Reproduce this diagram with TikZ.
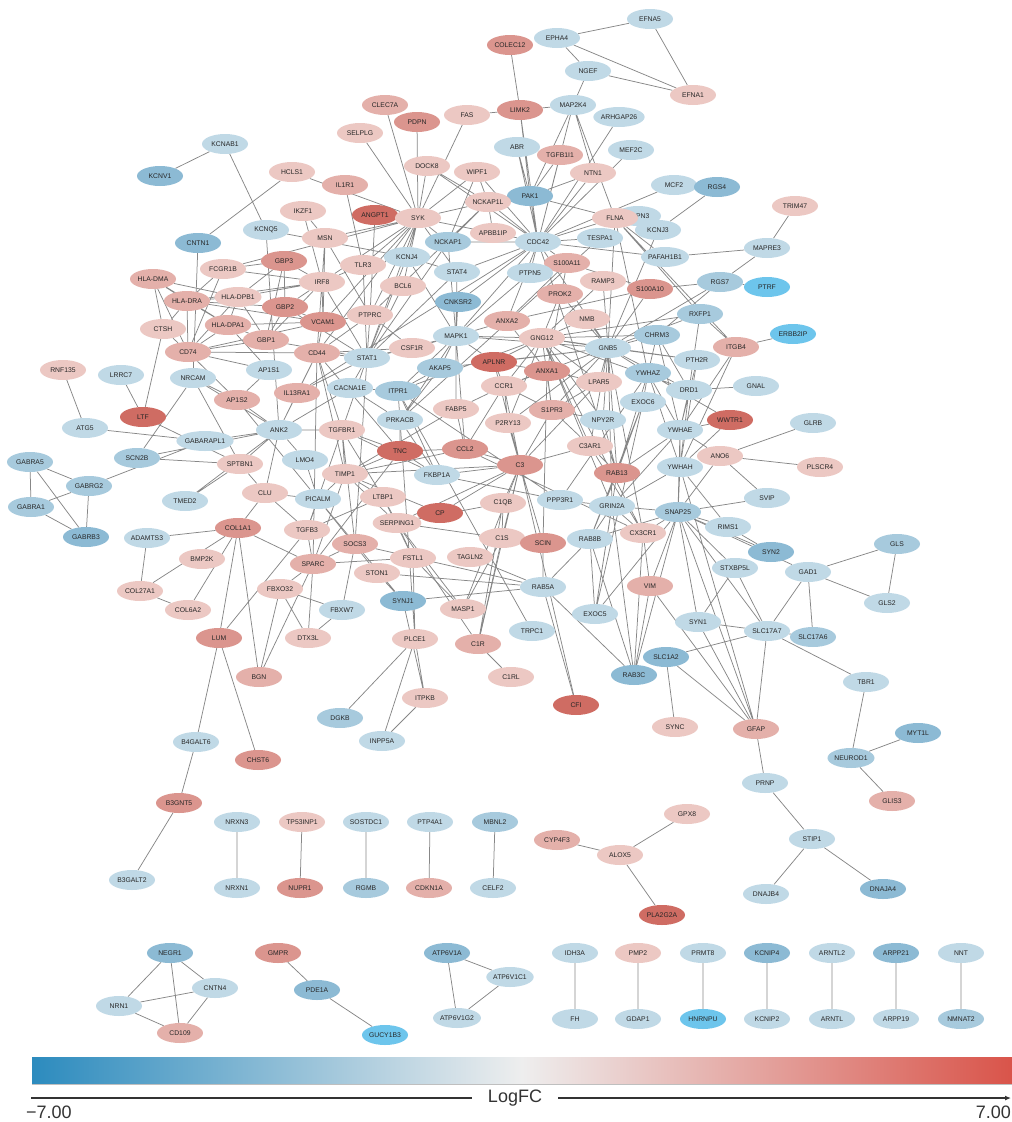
\documentclass[tikz,border=0pt]{standalone}
\usepackage{fontspec}
\setmainfont{Liberation Sans}
\usepackage{tikz}
\usetikzlibrary{shapes.geometric,backgrounds,arrows.meta}

\definecolor{ra}{HTML}{ECC8C3}
\definecolor{rb}{HTML}{E4B0AA}
\definecolor{rc}{HTML}{DB958E}
\definecolor{rd}{HTML}{CF6C63}
\definecolor{ba}{HTML}{C0D9E6}
\definecolor{bb}{HTML}{A7CADD}
\definecolor{bc}{HTML}{8CBAD4}
\definecolor{bd}{HTML}{6DC5EC}
\definecolor{edgegray}{HTML}{878787}

\begin{document}
\begin{tikzpicture}[x=1pt, y=-1pt,
  gene/.style={ellipse, minimum width=46pt, minimum height=20pt, inner sep=0pt,
    font=\fontsize{6.8}{7}\selectfont, text=black!85},
  r1/.style={gene, fill=ra}, r2/.style={gene, fill=rb},
  r3/.style={gene, fill=rc}, r4/.style={gene, fill=rd},
  b1/.style={gene, fill=ba}, b2/.style={gene, fill=bb},
  b3/.style={gene, fill=bc}, b4/.style={gene, fill=bd},
  link/.style={draw=edgegray, line width=0.75pt}]

 \useasboundingbox (0,0) rectangle (1012,1122);

 % main network, upper part
 \node[b3] (KCNV1) at (160,176) {KCNV1};
 \node[b1] (KCNAB1) at (225,144) {KCNAB1};
 \node[r1] (HCLS1) at (292,172) {HCLS1};
 \node[r2] (IL1R1) at (345,185) {IL1R1};
 \node[r1] (SELPLG) at (360,133) {SELPLG};
 \node[r2] (CLEC7A) at (385,105) {CLEC7A};
 \node[r3] (PDPN) at (417,122) {PDPN};
 \node[r1] (FAS) at (467,115) {FAS};
 \node[r3] (LIMK2) at (520,110) {LIMK2};
 \node[r3] (COLEC12) at (510,45) {COLEC12};
 \node[b1] (EPHA4) at (557,38) {EPHA4};
 \node[b1] (EFNA5) at (650,19) {EFNA5};
 \node[b1] (NGEF) at (588,71) {NGEF};
 \node[r1] (EFNA1) at (693,95) {EFNA1};
 \node[b1] (MAP2K4) at (573,105) {MAP2K4};
 \node[b1] (ARHGAP26) at (619,117) {ARHGAP26};
 \node[b1] (ABR) at (517,147) {ABR};
 \node[r2] (TGFB1I1) at (560,155) {TGFB1I1};
 \node[b1] (MEF2C) at (631,150) {MEF2C};
 \node[r1] (DOCK8) at (427,166) {DOCK8};
 \node[r1] (WIPF1) at (477,172) {WIPF1};
 \node[r1] (NTN1) at (593,173) {NTN1};
 \node[b3] (PAK1) at (530,196) {PAK1};
 \node[b1] (MCF2) at (674,185) {MCF2};
 \node[b3] (RGS4) at (717,187) {RGS4};
 \node[r1] (TRIM47) at (795,206) {TRIM47};
 \node[r1] (IKZF1) at (303,211) {IKZF1};
 \node[r4] (ANGPT1) at (375,215) {ANGPT1};
 \node[r1] (SYK) at (418,218) {SYK};
 \node[r1] (NCKAP1L) at (488,202) {NCKAP1L};
 \node[b1] (CAPN3) at (638,216) {CAPN3};
 \node[r1] (FLNA) at (615,218) {FLNA};
 \node[b1] (KCNJ3) at (658,230) {KCNJ3};
 \node[b3] (CNTN1) at (198,243) {CNTN1};
 \node[b1] (KCNQ5) at (266,230) {KCNQ5};
 \node[r1] (MSN) at (325,238) {MSN};
 \node[r1] (APBB1IP) at (493,233) {APBB1IP};
 \node[b2] (NCKAP1) at (448,242) {NCKAP1};
 \node[b1] (CDC42) at (538,242) {CDC42};
 \node[b1] (TESPA1) at (600,238) {TESPA1};
 \node[b1] (PAFAH1B1) at (665,257) {PAFAH1B1};
 \node[b1] (MAPRE3) at (767,248) {MAPRE3};
 \node[r1] (FCGR1B) at (223,269) {FCGR1B};
 \node[r3] (GBP3) at (284,261) {GBP3};
 \node[b1] (KCNJ4) at (407,257) {KCNJ4};
 \node[r1] (TLR3) at (363,265) {TLR3};
 \node[r2] (S100A11) at (567,263) {S100A11};
 \node[b1] (STAT4) at (457,272) {STAT4};
 \node[b1] (PTPN5) at (530,273) {PTPN5};
 \node[r1] (IRF8) at (322,282) {IRF8};
 \node[r2] (HLA-DMA) at (153,279) {HLA-DMA};
 \node[r1] (RAMP3) at (603,281) {RAMP3};
 \node[b2] (RGS7) at (720,282) {RGS7};
 \node[b4] (PTRF) at (767,287) {PTRF};
 \node[r1] (BCL6) at (403,286) {BCL6};
 \node[r3] (S100A10) at (650,289) {S100A10};
 \node[r2] (PROK2) at (560,294) {PROK2};
 \node[r1] (HLA-DPB1) at (238,297) {HLA-DPB1};
 \node[r2] (HLA-DRA) at (187,301) {HLA-DRA};
 \node[b3] (CNKSR2) at (458,302) {CNKSR2};
 \node[r3] (GBP2) at (285,307) {GBP2};
 \node[b2] (RXFP1) at (700,314) {RXFP1};
 \node[r1] (PTPRC) at (370,315) {PTPRC};
 \node[r2] (ANXA2) at (507,321) {ANXA2};
 \node[r1] (NMB) at (587,319) {NMB};
 \node[r3] (VCAM1) at (323,322) {VCAM1};
 \node[r2] (HLA-DPA1) at (228,325) {HLA-DPA1};
 \node[r1] (CTSH) at (163,329) {CTSH};
 \node[b4] (ERBB2IP) at (793,334) {ERBB2IP};
 \node[b1] (MAPK1) at (456,336) {MAPK1};
 \node[r1] (GNG12) at (542,338) {GNG12};
 \node[b2] (CHRM3) at (657,335) {CHRM3};
 \node[r2] (GBP1) at (266,340) {GBP1};
 \node[r2] (ITGB4) at (736,347) {ITGB4};
 \node[r1] (CSF1R) at (412,348) {CSF1R};
 \node[b1] (GNB5) at (608,348) {GNB5};
 \node[r2] (CD74) at (188,352) {CD74};
 \node[r2] (CD44) at (317,353) {CD44};
 \node[b1] (STAT1) at (367,358) {STAT1};
 \node[b1] (PTH2R) at (697,360) {PTH2R};
 \node[r4] (APLNR) at (494,362) {APLNR};
 \node[b2] (AKAP5) at (440,368) {AKAP5};
 \node[r1] (RNF135) at (63,370) {RNF135};
 \node[b1] (AP1S1) at (269,370) {AP1S1};
 \node[r3] (ANXA1) at (547,371) {ANXA1};
 \node[b2] (YWHAZ) at (648,373) {YWHAZ};
 \node[b1] (LRRC7) at (121,375) {LRRC7};
 \node[b1] (NRCAM) at (193,378) {NRCAM};
 \node[r1] (LPAR5) at (599,382) {LPAR5};
 \node[r1] (CCR1) at (504,386) {CCR1};
 \node[b1] (GNAL) at (756,386) {GNAL};
 \node[b1] (CACNA1E) at (350,388) {CACNA1E};
 \node[b1] (DRD1) at (689,390) {DRD1};
 \node[b2] (ITPR1) at (398,391) {ITPR1};
 \node[r2] (IL13RA1) at (297,393) {IL13RA1};
 \node[r2] (AP1S2) at (237,400) {AP1S2};
 \node[b1] (EXOC6) at (643,402) {EXOC6};
 \node[r1] (FABP5) at (456,409) {FABP5};
 \node[r2] (S1PR3) at (552,410) {S1PR3};
 \node[r4] (LTF) at (143,417) {LTF};
 \node[b1] (PRKACB) at (400,420) {PRKACB};
 \node[b1] (NPY2R) at (603,420) {NPY2R};
 \node[r4] (WWTR1) at (730,420) {WWTR1};
 \node[r1] (P2RY13) at (508,423) {P2RY13};
 \node[b1] (GLRB) at (813,423) {GLRB};
 \node[b1] (ATG5) at (85,428) {ATG5};
 \node[b1] (ANK2) at (279,430) {ANK2};
 \node[r1] (TGFBR1) at (342,430) {TGFBR1};
 \node[b1] (YWHAE) at (680,430) {YWHAE};
 \node[b1] (GABARAPL1) at (205,441) {GABARAPL1};
 \node[r1] (C3AR1) at (590,446) {C3AR1};
 \node[r3] (CCL2) at (465,449) {CCL2};
 \node[r4] (TNC) at (400,451) {TNC};
 \node[r1] (ANO6) at (720,456) {ANO6};
 \node[b2] (SCN2B) at (137,458) {SCN2B};
 \node[b1] (LMO4) at (305,460) {LMO4};
 \node[b2] (GABRA5) at (30,462) {GABRA5};
 \node[r1] (SPTBN1) at (240,464) {SPTBN1};
 \node[r3] (C3) at (520,465) {C3};
 \node[r1] (PLSCR4) at (820,467) {PLSCR4};
 \node[b1] (YWHAH) at (680,467) {YWHAH};
 \node[r3] (RAB13) at (617,473) {RAB13};
 \node[r1] (TIMP1) at (345,474) {TIMP1};
 \node[b1] (FKBP1A) at (437,475) {FKBP1A};
 \node[b2] (GABRG2) at (89,486) {GABRG2};
 \node[r1] (CLU) at (265,493) {CLU};
 \node[r1] (LTBP1) at (383,497) {LTBP1};
 \node[b1] (SVIP) at (767,498) {SVIP};
 \node[b1] (PICALM) at (318,499) {PICALM};
 \node[b1] (PPP3R1) at (560,500) {PPP3R1};
 \node[b1] (TMED2) at (185,501) {TMED2};
 \node[r1] (C1QB) at (503,503) {C1QB};
 \node[b1] (GRIN2A) at (612,506) {GRIN2A};
 \node[b2] (GABRA1) at (31,507) {GABRA1};
 \node[b2] (SNAP25) at (678,512) {SNAP25};
 \node[r4] (CP) at (440,513) {CP};
 \node[r1] (SERPING1) at (397,523) {SERPING1};
 \node[b1] (RIMS1) at (728,527) {RIMS1};
 \node[r3] (COL1A1) at (238,528) {COL1A1};
 \node[r1] (TGFB3) at (307,530) {TGFB3};
 \node[r1] (CX3CR1) at (643,533) {CX3CR1};
 \node[b3] (GABRB3) at (86,537) {GABRB3};
 \node[b1] (ADAMTS3) at (147,538) {ADAMTS3};
 \node[r1] (C1S) at (502,538) {C1S};
 \node[b1] (RAB8B) at (590,539) {RAB8B};
 \node[r3] (SCIN) at (543,543) {SCIN};
 \node[r2] (SOCS3) at (355,544) {SOCS3};
 \node[b2] (GLS) at (897,544) {GLS};
 \node[b3] (SYN2) at (771,552) {SYN2};
 \node[r1] (FSTL1) at (413,558) {FSTL1};
 \node[r1] (TAGLN2) at (470,557) {TAGLN2};
 \node[r1] (BMP2K) at (202,559) {BMP2K};
 \node[r2] (SPARC) at (313,564) {SPARC};
 \node[b1] (STXBP5L) at (735,568) {STXBP5L};
 \node[b1] (GAD1) at (808,572) {GAD1};
 \node[r1] (STON1) at (377,573) {STON1};
 \node[r2] (VIM) at (650,586) {VIM};
 \node[b1] (RAB5A) at (543,587) {RAB5A};
 \node[r1] (FBXO32) at (280,589) {FBXO32};
 \node[r1] (COL27A1) at (140,591) {COL27A1};
 \node[b3] (SYNJ1) at (403,601) {SYNJ1};
 \node[b1] (GLS2) at (887,603) {GLS2};
 \node[r1] (MASP1) at (463,609) {MASP1};
 \node[r1] (COL6A2) at (188,610) {COL6A2};
 \node[b1] (FBXW7) at (342,610) {FBXW7};
 \node[b1] (EXOC5) at (595,614) {EXOC5};
 \node[b1] (SYN1) at (698,622) {SYN1};
 \node[b1] (TRPC1) at (532,631) {TRPC1};
 \node[b1] (SLC17A7) at (767,631) {SLC17A7};
 \node[b2] (SLC17A6) at (813,637) {SLC17A6};
 \node[r3] (LUM) at (219,638) {LUM};
 \node[r1] (DTX3L) at (308,638) {DTX3L};
 \node[r1] (PLCE1) at (415,639) {PLCE1};
 \node[r2] (C1R) at (478,644) {C1R};
 \node[b3] (SLC1A2) at (666,657) {SLC1A2};
 \node[b3] (RAB3C) at (634,675) {RAB3C};
 \node[r2] (BGN) at (259,677) {BGN};
 \node[r1] (C1RL) at (511,677) {C1RL};
 \node[b1] (TBR1) at (866,682) {TBR1};
 \node[r1] (ITPKB) at (425,698) {ITPKB};
 \node[r4] (CFI) at (576,705) {CFI};
 \node[b2] (DGKB) at (340,718) {DGKB};
 \node[r1] (SYNC) at (675,727) {SYNC};
 \node[r2] (GFAP) at (756,729) {GFAP};
 \node[b3] (MYT1L) at (918,733) {MYT1L};
 \node[b1] (INPP5A) at (382,741) {INPP5A};
 \node[b1] (B4GALT6) at (196,742) {B4GALT6};
 \node[b2] (NEUROD1) at (851,758) {NEUROD1};
 \node[r3] (CHST6) at (258,760) {CHST6};
 \node[b1] (PRNP) at (765,783) {PRNP};
 \node[r2] (GLIS3) at (892,801) {GLIS3};
 \node[r3] (B3GNT5) at (179,803) {B3GNT5};
 \node[b1] (STIP1) at (812,839) {STIP1};
 \node[b3] (DNAJA4) at (883,889) {DNAJA4};
 \node[b1] (DNAJB4) at (766,894) {DNAJB4};
 \node[b1] (B3GALT2) at (132,880) {B3GALT2};

 % small groups
 \node[r1] (GPX8) at (687,814) {GPX8};
 \node[r2] (CYP4F3) at (557,840) {CYP4F3};
 \node[r1] (ALOX5) at (620,855) {ALOX5};
 \node[r4] (PLA2G2A) at (662,915) {PLA2G2A};
 \node[b1] (NRXN3) at (237,822) {NRXN3};
 \node[b1] (NRXN1) at (237,888) {NRXN1};
 \node[r1] (TP53INP1) at (302,822) {TP53INP1};
 \node[r3] (NUPR1) at (300,888) {NUPR1};
 \node[b1] (SOSTDC1) at (366,822) {SOSTDC1};
 \node[b2] (RGMB) at (366,888) {RGMB};
 \node[b1] (PTP4A1) at (430,822) {PTP4A1};
 \node[r2] (CDKN1A) at (429,888) {CDKN1A};
 \node[b2] (MBNL2) at (495,822) {MBNL2};
 \node[b1] (CELF2) at (493,888) {CELF2};
 \node[b3] (NEGR1) at (170,953) {NEGR1};
 \node[b1] (CNTN4) at (215,988) {CNTN4};
 \node[b1] (NRN1) at (119,1006) {NRN1};
 \node[r2] (CD109) at (180,1033) {CD109};
 \node[r3] (GMPR) at (278,953) {GMPR};
 \node[b3] (PDE1A) at (317,990) {PDE1A};
 \node[b4] (GUCY1B3) at (385,1035) {GUCY1B3};
 \node[b3] (ATP6V1A) at (447,953) {ATP6V1A};
 \node[b1] (ATP6V1C1) at (510,977) {ATP6V1C1};
 \node[b1] (ATP6V1G2) at (457,1018) {ATP6V1G2};
 \node[b1] (IDH3A) at (575,953) {IDH3A};
 \node[b1] (FH) at (575,1019) {FH};
 \node[r1] (PMP2) at (638,953) {PMP2};
 \node[b1] (GDAP1) at (638,1019) {GDAP1};
 \node[b1] (PRMT8) at (703,953) {PRMT8};
 \node[b4] (HNRNPU) at (703,1019) {HNRNPU};
 \node[b3] (KCNIP4) at (767,953) {KCNIP4};
 \node[b1] (KCNIP2) at (767,1019) {KCNIP2};
 \node[b1] (ARNTL2) at (832,953) {ARNTL2};
 \node[b1] (ARNTL) at (832,1019) {ARNTL};
 \node[b3] (ARPP21) at (896,953) {ARPP21};
 \node[b1] (ARPP19) at (896,1019) {ARPP19};
 \node[b1] (NNT) at (961,953) {NNT};
 \node[b2] (NMNAT2) at (961,1019) {NMNAT2};

 \begin{pgfonlayer}{background}
 \draw[link]
   (KCNV1) -- (KCNAB1) (KCNAB1) -- (KCNQ5) (HCLS1) -- (SYK) (HCLS1) -- (CNTN1)
   (CNTN1) -- (NRCAM) (KCNQ5) -- (KCNJ4) (KCNQ5) -- (ANK2) (IKZF1) -- (IRF8)
   (IKZF1) -- (MSN) (SELPLG) -- (SYK) (CLEC7A) -- (SYK) (PDPN) -- (SYK)
   (FAS) -- (SYK) (FAS) -- (LIMK2) (COLEC12) -- (LIMK2) (LIMK2) -- (MAP2K4)
   (LIMK2) -- (CDC42) (LIMK2) -- (PAK1) (EPHA4) -- (EFNA5) (EPHA4) -- (NGEF)
   (EPHA4) -- (EFNA1) (NGEF) -- (EFNA1) (EFNA5) -- (EFNA1) (NGEF) -- (MAP2K4)
   (MAP2K4) -- (CDC42) (MAP2K4) -- (PAK1) (MAP2K4) -- (FLNA) (MAP2K4) -- (NTN1)
   (ARHGAP26) -- (CDC42) (ABR) -- (CDC42) (ABR) -- (PAK1) (TGFB1I1) -- (CDC42)
   (TGFB1I1) -- (PAK1) (MEF2C) -- (CDC42) (NTN1) -- (CDC42) (NTN1) -- (PAK1)
   (MCF2) -- (CDC42) (PAK1) -- (CDC42) (PAK1) -- (FLNA) (WIPF1) -- (CDC42)
   (WIPF1) -- (SYK) (WIPF1) -- (NCKAP1L) (WIPF1) -- (NCKAP1) (DOCK8) -- (CDC42)
   (DOCK8) -- (SYK) (DOCK8) -- (NCKAP1L) (IL1R1) -- (TLR3) (ANGPT1) -- (PTPRC)
   (SYK) -- (NCKAP1L) (SYK) -- (APBB1IP) (SYK) -- (CDC42) (SYK) -- (MSN)
   (SYK) -- (STAT4) (SYK) -- (PTPRC) (SYK) -- (VCAM1) (SYK) -- (TLR3)
   (SYK) -- (FCGR1B) (SYK) -- (CD44) (SYK) -- (STAT1) (SYK) -- (KCNJ4)
   (SYK) -- (BCL6) (SYK) -- (IRF8) (SYK) -- (NCKAP1) (SYK) -- (ANGPT1)
   (NCKAP1L) -- (CDC42) (NCKAP1L) -- (NCKAP1) (NCKAP1L) -- (APBB1IP) (NCKAP1L) -- (PTPRC)
   (NCKAP1) -- (CDC42) (APBB1IP) -- (CDC42) (FLNA) -- (CDC42) (FLNA) -- (PAFAH1B1)
   (FLNA) -- (RXFP1) (FLNA) -- (ITGB4) (FLNA) -- (YWHAZ) (TESPA1) -- (CDC42)
   (PAFAH1B1) -- (CDC42) (PAFAH1B1) -- (MAPRE3) (TRIM47) -- (MAPRE3) (MAPRE3) -- (RGS7)
   (RGS4) -- (KCNJ3) (KCNJ3) -- (GNB5) (RGS7) -- (PTRF) (RGS7) -- (S100A10)
   (RGS7) -- (GNB5) (RXFP1) -- (GNB5) (RXFP1) -- (GNG12) (RXFP1) -- (ITGB4)
   (RXFP1) -- (DRD1) (ITGB4) -- (ERBB2IP) (ITGB4) -- (YWHAE) (ITGB4) -- (YWHAH)
   (PTH2R) -- (GNB5) (PTH2R) -- (GNG12) (PTH2R) -- (YWHAE) (DRD1) -- (GNAL)
   (DRD1) -- (GNB5) (DRD1) -- (GNG12) (DRD1) -- (YWHAE) (DRD1) -- (YWHAH)
   (YWHAZ) -- (WWTR1) (WWTR1) -- (YWHAE) (WWTR1) -- (YWHAH) (GLRB) -- (ANO6)
   (ANO6) -- (PLSCR4) (ANO6) -- (SVIP) (ANO6) -- (SNAP25) (ANO6) -- (YWHAE)
   (SVIP) -- (SNAP25) (SNAP25) -- (RIMS1) (RIMS1) -- (SYN2) (SNAP25) -- (GAD1)
   (SNAP25) -- (STXBP5L) (SNAP25) -- (SYN1) (SNAP25) -- (SLC17A7) (SNAP25) -- (GFAP)
   (STXBP5L) -- (SYN1) (STXBP5L) -- (SLC17A7) (SYN1) -- (SLC17A7) (SYN1) -- (GFAP)
   (YWHAH) -- (RIMS1) (YWHAH) -- (GFAP) (GAD1) -- (GLS) (GAD1) -- (GLS2)
   (GLS) -- (GLS2) (GAD1) -- (SLC17A7) (GAD1) -- (SLC17A6) (SLC17A7) -- (SLC17A6)
   (SLC17A7) -- (SLC1A2) (SLC17A7) -- (TBR1) (SLC17A7) -- (GFAP) (SLC1A2) -- (GFAP)
   (SLC1A2) -- (SYNC) (GFAP) -- (PRNP) (PRNP) -- (STIP1) (STIP1) -- (DNAJB4)
   (STIP1) -- (DNAJA4) (TBR1) -- (NEUROD1) (NEUROD1) -- (MYT1L) (NEUROD1) -- (GLIS3)
   (VIM) -- (GFAP) (VIM) -- (RAB3C) (VIM) -- (CX3CR1) (VIM) -- (SNAP25)
   (RAB3C) -- (RAB5A) (RAB3C) -- (RAB8B) (RAB3C) -- (GRIN2A) (RAB3C) -- (SNAP25)
   (RAB5A) -- (CFI) (RAB5A) -- (RAB8B) (RAB5A) -- (SYNJ1) (RAB5A) -- (STON1)
   (RAB5A) -- (TAGLN2) (RAB5A) -- (SCIN) (RAB5A) -- (SOCS3) (EXOC5) -- (RAB8B)
   (EXOC5) -- (EXOC6) (EXOC5) -- (GRIN2A) (EXOC5) -- (RAB13) (TRPC1) -- (ITPR1)
   (C1R) -- (C1S) (C1R) -- (C1QB) (C1R) -- (C1RL) (MASP1) -- (SERPING1)
   (MASP1) -- (C3) (MASP1) -- (FSTL1) (MASP1) -- (C1S) (PLCE1) -- (DGKB)
   (PLCE1) -- (INPP5A) (PLCE1) -- (ITPKB) (ITPKB) -- (INPP5A) (SYNJ1) -- (ITPKB)
   (STON1) -- (SYNJ1) (SYNJ1) -- (PICALM) (PLCE1) -- (FSTL1) (PLCE1) -- (PRKACB)
   (FBXW7) -- (DTX3L) (FBXO32) -- (FBXW7) (FBXO32) -- (DTX3L) (FBXO32) -- (BGN)
   (SPARC) -- (BGN) (TGFB3) -- (LUM) (COL1A1) -- (LUM) (COL1A1) -- (BGN)
   (COL1A1) -- (COL6A2) (COL27A1) -- (COL1A1) (COL27A1) -- (COL6A2) (COL27A1) -- (ADAMTS3)
   (ADAMTS3) -- (COL1A1) (COL1A1) -- (SPARC) (COL1A1) -- (CLU) (SPARC) -- (TGFB3)
   (SPARC) -- (DTX3L) (SPARC) -- (FBXO32) (LUM) -- (B4GALT6) (LUM) -- (CHST6)
   (B4GALT6) -- (B3GNT5) (B3GNT5) -- (B3GALT2) (SOCS3) -- (FBXW7) (SOCS3) -- (STAT1)
   (SOCS3) -- (SPARC) (FSTL1) -- (SPARC) (FSTL1) -- (LTBP1);
 % left part
 \draw[link]
   (RNF135) -- (ATG5) (ATG5) -- (GABARAPL1) (LRRC7) -- (LTF) (CTSH) -- (LTF)
   (LTF) -- (SPTBN1) (NRCAM) -- (SCN2B) (NRCAM) -- (AP1S2) (NRCAM) -- (ANK2)
   (NRCAM) -- (SPTBN1) (SCN2B) -- (ANK2) (SCN2B) -- (SPTBN1) (GABRA5) -- (GABRG2)
   (GABRA5) -- (GABRA1) (GABRA5) -- (GABRB3) (GABRG2) -- (GABRA1) (GABRG2) -- (GABRB3)
   (GABRA1) -- (GABRB3) (GABRG2) -- (GABARAPL1) (GABARAPL1) -- (ANK2) (TMED2) -- (SPTBN1)
   (TMED2) -- (ANK2) (SPTBN1) -- (ANK2) (SPTBN1) -- (CLU) (AP1S2) -- (AP1S1)
   (AP1S2) -- (CD74) (AP1S2) -- (ANK2) (AP1S1) -- (CD74) (AP1S1) -- (HLA-DPA1)
   (LMO4) -- (ANK2) (LMO4) -- (PICALM) (CLU) -- (PICALM) (ANK2) -- (TGFBR1)
   (ANK2) -- (IL13RA1) (ANK2) -- (CLU) (ANK2) -- (CACNA1E) (ANK2) -- (CD44)
   (PICALM) -- (TGFB3) (PICALM) -- (TIMP1) (PICALM) -- (AP1S2) (CLU) -- (TGFB3)
   (HLA-DMA) -- (HLA-DRA) (HLA-DMA) -- (CD74) (HLA-DMA) -- (HLA-DPB1) (HLA-DMA) -- (HLA-DPA1)
   (HLA-DRA) -- (HLA-DPB1) (HLA-DRA) -- (HLA-DPA1) (HLA-DRA) -- (CD74) (HLA-DPB1) -- (HLA-DPA1)
   (HLA-DPB1) -- (CD74) (HLA-DPA1) -- (CD74) (CTSH) -- (CD74) (CTSH) -- (HLA-DRA)
   (CTSH) -- (HLA-DMA) (FCGR1B) -- (HLA-DRA) (FCGR1B) -- (GBP3) (FCGR1B) -- (IRF8)
   (FCGR1B) -- (CD74) (GBP1) -- (GBP2) (GBP2) -- (GBP3) (GBP1) -- (GBP3)
   (IRF8) -- (GBP2) (IRF8) -- (GBP1) (IRF8) -- (GBP3) (IRF8) -- (STAT1)
   (STAT1) -- (GBP1) (STAT1) -- (GBP2) (HLA-DRA) -- (GBP2) (HLA-DPA1) -- (GBP1)
   (HLA-DRA) -- (IRF8) (HLA-DPB1) -- (IRF8) (HLA-DPB1) -- (GBP1) (CD74) -- (CD44)
   (CD44) -- (VCAM1) (CD44) -- (STAT1) (CD44) -- (CSF1R) (CD44) -- (PTPRC)
   (CD44) -- (TIMP1) (CD44) -- (SPARC) (CD44) -- (IL13RA1) (CD44) -- (MSN)
   (VCAM1) -- (PTPRC) (VCAM1) -- (IRF8) (VCAM1) -- (GBP2) (VCAM1) -- (HLA-DPA1)
   (IL13RA1) -- (STAT1) (MSN) -- (PTPRC) (MSN) -- (VCAM1) (TLR3) -- (IRF8)
   (TLR3) -- (STAT1) (BCL6) -- (STAT1) (CSF1R) -- (PTPRC) (CSF1R) -- (STAT1)
   (CSF1R) -- (MAPK1) (PTPRC) -- (STAT1) (KCNJ4) -- (STAT1) (GBP3) -- (HLA-DPB1)
   (CD74) -- (GBP1) (HLA-DRA) -- (VCAM1) (CD74) -- (VCAM1);
 % central part
 \draw[link]
   (MAPK1) -- (STAT1) (MAPK1) -- (CNKSR2) (MAPK1) -- (PTPN5) (MAPK1) -- (STAT4)
   (MAPK1) -- (AKAP5) (MAPK1) -- (ANXA2) (MAPK1) -- (PRKACB) (MAPK1) -- (CDC42)
   (MAPK1) -- (KCNJ4) (MAPK1) -- (GNG12) (MAPK1) -- (GNB5) (MAPK1) -- (FABP5)
   (MAPK1) -- (CCL2) (MAPK1) -- (ITPR1) (MAPK1) -- (NCKAP1) (MAPK1) -- (APLNR)
   (STAT4) -- (STAT1) (STAT4) -- (KCNJ4) (STAT4) -- (CDC42) (PTPN5) -- (CDC42)
   (CNKSR2) -- (CDC42) (AKAP5) -- (PRKACB) (AKAP5) -- (ITPR1) (PRKACB) -- (ITPR1)
   (PRKACB) -- (CACNA1E) (PRKACB) -- (FKBP1A) (ITPR1) -- (FKBP1A) (ITPR1) -- (CACNA1E)
   (GNB5) -- (GNG12) (GNG12) -- (APLNR) (GNG12) -- (CCR1) (GNG12) -- (LPAR5)
   (GNG12) -- (S1PR3) (GNG12) -- (P2RY13) (GNG12) -- (NPY2R) (GNG12) -- (C3AR1)
   (GNG12) -- (CX3CR1) (GNG12) -- (CHRM3) (GNG12) -- (NMB) (GNG12) -- (PROK2)
   (GNG12) -- (RAMP3) (GNG12) -- (GRIN2A) (GNB5) -- (APLNR) (GNB5) -- (CCR1)
   (GNB5) -- (LPAR5) (GNB5) -- (S1PR3) (GNB5) -- (P2RY13) (GNB5) -- (NPY2R)
   (GNB5) -- (C3AR1) (GNB5) -- (CX3CR1) (GNB5) -- (CHRM3) (GNB5) -- (RAMP3)
   (GNB5) -- (PROK2) (GNB5) -- (NMB) (GNB5) -- (GRIN2A) (GNB5) -- (S100A10)
   (APLNR) -- (ANXA1) (CCR1) -- (CCL2) (ANXA1) -- (ANXA2) (ANXA2) -- (S100A10)
   (ANXA1) -- (S100A11) (S100A11) -- (S100A10) (ANXA2) -- (S100A11) (ANXA1) -- (LPAR5)
   (ANXA1) -- (CCR1) (ANXA1) -- (S1PR3) (ANXA2) -- (CDC42) (S100A11) -- (CDC42)
   (CCL2) -- (C3) (CCL2) -- (TNC) (CCL2) -- (TIMP1) (CCL2) -- (CX3CR1)
   (CCL2) -- (CCR1) (CCL2) -- (FABP5) (C3) -- (C3AR1) (C3) -- (C1QB)
   (C3) -- (C1S) (C3) -- (CP) (C3) -- (SERPING1) (C3) -- (CFI)
   (C3) -- (C1R) (C3) -- (CCR1) (C3) -- (APLNR) (C3) -- (S1PR3)
   (C3) -- (P2RY13) (C3) -- (LPAR5) (C3) -- (TIMP1) (C3) -- (FKBP1A)
   (SERPING1) -- (C1S) (SERPING1) -- (C1R) (SERPING1) -- (C1QB) (SERPING1) -- (CP)
   (SERPING1) -- (TIMP1) (SERPING1) -- (LTBP1) (SERPING1) -- (FSTL1) (CP) -- (TIMP1)
   (C1QB) -- (C1S) (TNC) -- (TGFBR1) (TNC) -- (FKBP1A) (TNC) -- (TIMP1)
   (TNC) -- (SPARC) (TNC) -- (PRKACB) (TNC) -- (CD44) (TGFBR1) -- (FKBP1A)
   (TGFBR1) -- (TGFB3) (TGFBR1) -- (LTBP1) (TGFBR1) -- (SOCS3) (TGFBR1) -- (TIMP1)
   (TGFBR1) -- (STAT1) (TGFBR1) -- (CD44) (TIMP1) -- (LTBP1) (TIMP1) -- (SPARC)
   (LTBP1) -- (TGFB3) (STON1) -- (PICALM) (PPP3R1) -- (FKBP1A) (PPP3R1) -- (GRIN2A)
   (PPP3R1) -- (YWHAZ) (PPP3R1) -- (ITPR1) (YWHAE) -- (YWHAZ) (YWHAE) -- (YWHAH)
   (YWHAH) -- (YWHAZ) (YWHAE) -- (RAB13) (YWHAZ) -- (RAB13) (YWHAE) -- (SNAP25)
   (YWHAH) -- (SNAP25) (YWHAE) -- (GRIN2A) (YWHAH) -- (GRIN2A) (YWHAZ) -- (EXOC6)
   (YWHAZ) -- (CHRM3) (YWHAE) -- (CHRM3) (YWHAZ) -- (GNB5) (YWHAH) -- (PTH2R)
   (SNAP25) -- (GRIN2A) (SNAP25) -- (RAB8B) (SNAP25) -- (CX3CR1) (SNAP25) -- (EXOC5)
   (SNAP25) -- (SYN2) (GRIN2A) -- (RAB8B) (GRIN2A) -- (CX3CR1) (EXOC6) -- (RAB13)
   (EXOC6) -- (RAB8B) (RAB13) -- (RAB8B) (RAB13) -- (NPY2R) (RAB13) -- (C3AR1)
   (RAB13) -- (GNB5) (CX3CR1) -- (C3AR1) (CX3CR1) -- (RAB3C) (CHRM3) -- (DRD1)
   (CHRM3) -- (RGS7) (SCIN) -- (ANXA1) (SCIN) -- (C3) (CACNA1E) -- (STAT1)
   (FABP5) -- (CCR1) (FABP5) -- (TIMP1) (P2RY13) -- (CCR1) (NPY2R) -- (S1PR3)
   (C3AR1) -- (S1PR3) (LPAR5) -- (S1PR3) (CCR1) -- (S1PR3) (APLNR) -- (CCR1)
   (CDC42) -- (GNB5) (CDC42) -- (IL13RA1) (CDC42) -- (RAB13) (FLNA) -- (GNB5)
   (AKAP5) -- (GNB5) (ITPR1) -- (GNG12) (NCKAP1) -- (STAT1) (TESPA1) -- (PRKACB);
 % small groups
 \draw[link]
   (NRXN3) -- (NRXN1) (TP53INP1) -- (NUPR1) (SOSTDC1) -- (RGMB) (PTP4A1) -- (CDKN1A)
   (MBNL2) -- (CELF2) (CYP4F3) -- (ALOX5) (ALOX5) -- (GPX8) (ALOX5) -- (PLA2G2A)
   (NEGR1) -- (CNTN4) (NEGR1) -- (NRN1) (NEGR1) -- (CD109) (CNTN4) -- (NRN1)
   (CNTN4) -- (CD109) (NRN1) -- (CD109) (GMPR) -- (PDE1A) (PDE1A) -- (GUCY1B3)
   (ATP6V1A) -- (ATP6V1C1) (ATP6V1A) -- (ATP6V1G2) (ATP6V1C1) -- (ATP6V1G2) (IDH3A) -- (FH)
   (PMP2) -- (GDAP1) (PRMT8) -- (HNRNPU) (KCNIP4) -- (KCNIP2) (ARNTL2) -- (ARNTL)
   (ARPP21) -- (ARPP19) (NNT) -- (NMNAT2);
 \end{pgfonlayer}

 % colour scale
 \shade[left color={rgb,255:red,44;green,139;blue,190}, right color={rgb,255:red,238;green,238;blue,238}]
   (32,1057) rectangle (522,1084);
 \shade[left color={rgb,255:red,238;green,238;blue,238}, right color={rgb,255:red,217;green,84;blue,74}]
   (522,1057) rectangle (1012,1084);
 \draw[black!25, line width=0.8pt] (32,1084) -- (1012,1084);
 \node[font=\fontsize{18}{20}\selectfont, text=black!80, inner xsep=16pt] (logfc) at (515,1098) {LogFC};
 \coordinate (axl) at (31,1098);
 \coordinate (axr) at (1011,1098);
 \draw[black!80, line width=1.2pt] (axl) -- (logfc.west);
 \draw[black!80, line width=1.2pt, -{Latex[length=6pt,width=5pt]}] (logfc.east) -- (axr);
 \node[font=\fontsize{18}{20}\selectfont, text=black!80, anchor=west, inner sep=0pt] (lowval) at (26,1112) {−7.00};
 \node[font=\fontsize{18}{20}\selectfont, text=black!80, anchor=east, inner sep=0pt] (highval) at (1011,1112) {7.00};

\end{tikzpicture}
\end{document}
